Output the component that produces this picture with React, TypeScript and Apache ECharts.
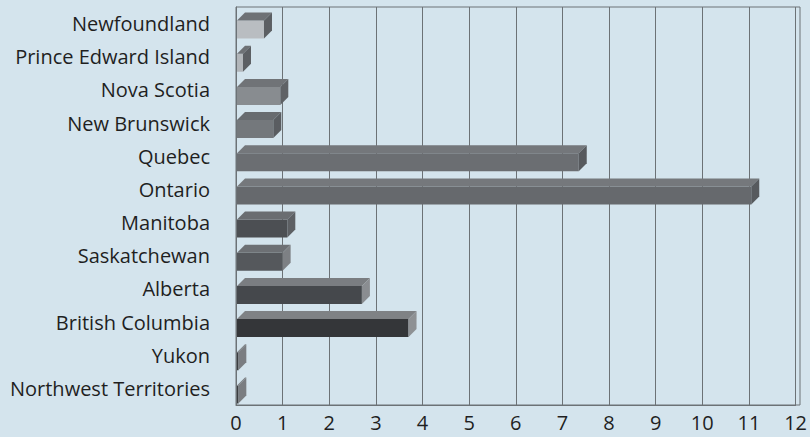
import React, { useEffect, useRef } from "react";
import * as echarts from "echarts";

const categories = [
  "Newfoundland",
  "Prince Edward Island",
  "Nova Scotia",
  "New Brunswick",
  "Quebec",
  "Ontario",
  "Manitoba",
  "Saskatchewan",
  "Alberta",
  "British Columbia",
  "Yukon",
  "Northwest Territories",
];
const values = [0.6, 0.15, 0.95, 0.8, 7.35, 11.05, 1.1, 1.0, 2.7, 3.7, 0.05, 0.05];
const tickLabels = ["0", "1", "2", "3", "4", "5", "6", "7", "8", "9", "10", "11", "12"];

const frontColors = ["#b9bdc1", "#b2b6ba", "#888c90", "#74787c", "#6b6e72", "#66696d", "#4c4f53", "#55585c", "#45484c", "#343639", "#3b3d40", "#3b3d40"];
const topColors = ["#6e7175", "#6e7175", "#707377", "#686b6f", "#74777b", "#75787c", "#6a6d71", "#6d7074", "#7a7d81", "#7f8285", "#7a7d81", "#7a7d81"];
const sideColors = ["#5c5f63", "#5c5f63", "#5f6266", "#5a5d61", "#575a5e", "#575a5e", "#5d6064", "#7d8084", "#8a8d91", "#8e9194", "#7a7d81", "#7a7d81"];

export default function App() {
  const ref = useRef<HTMLDivElement>(null);
  useEffect(() => {
    if (!ref.current) return;
    const chart = echarts.init(ref.current, null, { renderer: "svg" });
    const fontFamily = "'Open Sans', 'Noto Sans', sans-serif";
    chart.setOption({
      animation: false,
      backgroundColor: "#d4e4ed",
      grid: { left: 236, right: 10, top: 7, bottom: 32, containLabel: false },
      xAxis: {
        type: "value",
        min: 0,
        max: 12,
        interval: 1,
        axisLine: { show: true, lineStyle: { color: "#6c7276", width: 1 } },
        axisTick: { show: false },
        splitLine: { show: true, lineStyle: { color: "#6c7276", width: 1 } },
        axisLabel: {
          color: "#1f1f1f",
          fontSize: 20,
          fontFamily,
          margin: 7,
          formatter: (v: number) => tickLabels[Math.round(v)],
        },
      },
      yAxis: {
        type: "category",
        data: categories,
        inverse: true,
        axisLine: { show: true, lineStyle: { color: "#6c7276", width: 1 } },
        axisTick: { show: false },
        splitLine: { show: false },
        axisLabel: {
          color: "#1f1f1f",
          fontSize: 20,
          fontFamily,
          margin: 26,
          verticalAlign: "middle",
          padding: [0, 0, 3, 0],
        },
      },
      graphic: [
        {
          type: "rect",
          shape: { x: 236, y: 7, width: 564, height: 398 },
          style: { fill: "none", stroke: "#6c7276", lineWidth: 1 },
          silent: true,
          z: 1,
        },
      ],
      series: [
        {
          type: "custom",
          encode: { x: 0, y: 1 },
          data: values.map((v, i) => [v, i]),
          renderItem: (params: any, api: any) => {
            const idx = api.value(1);
            const val = api.value(0);
            const start = api.coord([0, idx]);
            const end = api.coord([val, idx]);
            const cy = start[1];
            const d = 8;
            const fTop = cy - 3;
            const fBot = cy + 15;
            const x0 = start[0] + 1;
            const x1 = end[0];
            const i = params.dataIndex;
            return {
              type: "group",
              children: [
                {
                  type: "rect",
                  shape: { x: x0, y: fTop, width: Math.max(x1 - x0, 1.5), height: fBot - fTop },
                  style: { fill: frontColors[i] },
                },
                {
                  type: "polygon",
                  shape: { points: [[x0, fTop], [x0 + d, fTop - d], [x1 + d, fTop - d], [x1, fTop]] },
                  style: { fill: topColors[i] },
                },
                {
                  type: "polygon",
                  shape: { points: [[x1, fTop], [x1 + d, fTop - d], [x1 + d, fBot - d], [x1, fBot]] },
                  style: { fill: sideColors[i] },
                },
              ],
            };
          },
          z: 3,
        },
      ],
    });
    return () => chart.dispose();
  }, []);
  return <div ref={ref} style={{ width: 810, height: 437, position: "fixed", left: 0, top: 0 }} />;
}
